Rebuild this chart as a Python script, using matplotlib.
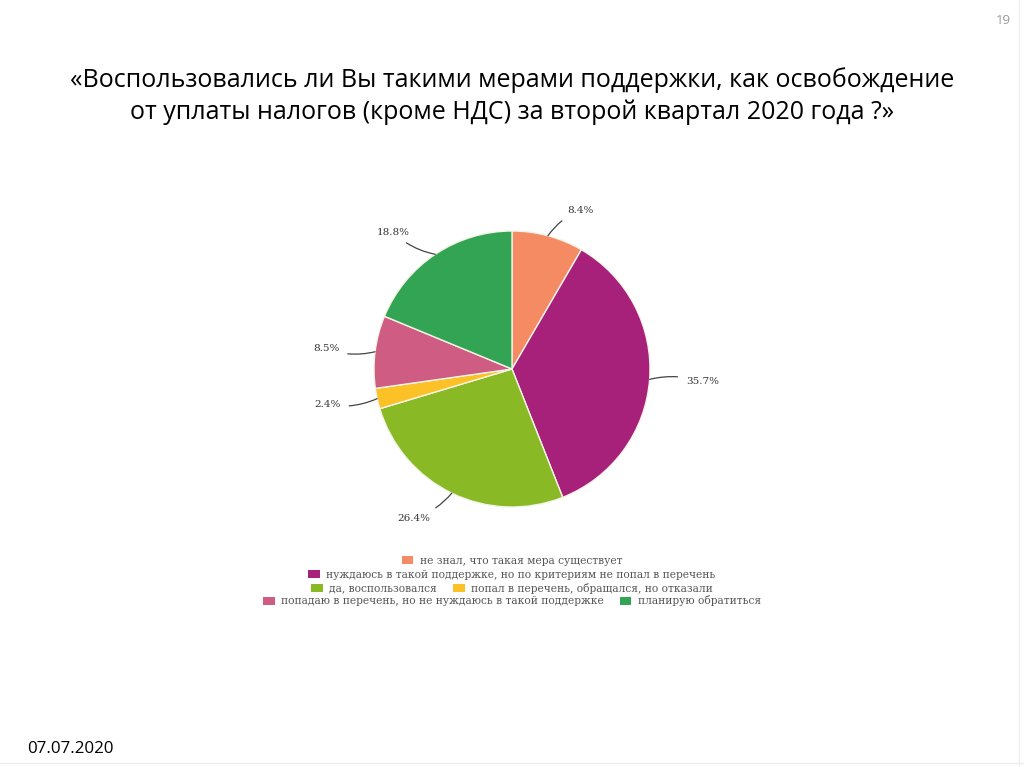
import matplotlib.pyplot as plt
from matplotlib.patches import Patch
import numpy as np

# данные
labels = ['не знал, что такая мера существует',
          'нуждаюсь в такой поддержке, но по критериям не попал в перечень',
          'да, воспользовался',
          'попал в перечень, обращался, но отказали',
          'попадаю в перечень, но не нуждаюсь в такой поддержке',
          'планирую обратиться']
values = [8.4, 35.7, 26.4, 2.4, 8.5, 18.8]
colors = ['#F58B63', '#A7207A', '#8AB926', '#FBC127', '#CF5C83', '#33A453']
# позиции подписей (в радиусах)
label_pos = [(0.40, 1.15), (1.26, -0.094), (-0.59, -1.08),
             (-1.24, -0.26), (-1.25, 0.145), (-0.74, 0.99)]
legend_rows = [[0], [1], [2, 3], [4, 5]]

title = ('«Воспользовались ли Вы такими мерами поддержки, как освобождение\n'
         'от уплаты налогов (кроме НДС) за второй квартал 2020 года ?»')

W, H = 1024, 767
fig = plt.figure(figsize=(W / 100, H / 100), dpi=100)
fig.patch.set_facecolor('white')

fig.text(512 / W, 1 - 96 / H, title, ha='center', va='center',
         fontsize=18, family='Open Sans', color='black', linespacing=1.3)
fig.text(1003 / W, 1 - 20 / H, '19', ha='center', va='center',
         fontsize=9.5, family='Open Sans', color='#999999')
fig.text(27 / W, 1 - 749 / H, '07.07.2020', ha='left', va='center',
         fontsize=12.2, family='Open Sans', color='black')

# круговая диаграмма
cx, cy, r = 512, 369, 138
half = 200
ax = fig.add_axes([(cx - half) / W, 1 - (cy + half) / H, 2 * half / W, 2 * half / H])
wedges, _ = ax.pie(values, colors=colors, startangle=90, counterclock=False,
                   radius=1, wedgeprops=dict(edgecolor='#f4f4e8', linewidth=1))
lim = half / r
ax.set_xlim(-lim, lim)
ax.set_ylim(-lim, lim)
ax.set_aspect('equal')
ax.axis('off')

for w, v, (lx, ly) in zip(wedges, values, label_pos):
    ang = np.deg2rad((w.theta1 + w.theta2) / 2)
    px, py = np.cos(ang), np.sin(ang)
    ha = 'left' if lx > 0 else 'right'
    ax.annotate(f'{v}%', xy=(px, py), xytext=(lx, ly), ha=ha, va='center',
                fontsize=7.5, family='DejaVu Serif', color='#333333',
                arrowprops=dict(arrowstyle='-', color='#444444', lw=0.9,
                                shrinkA=4, shrinkB=0,
                                connectionstyle='arc3,rad=0.15'))

# легенда по строкам
row_y = [561, 575, 588, 601]
for row, y in zip(legend_rows, row_y):
    handles = [Patch(facecolor=colors[i], edgecolor='none') for i in row]
    fig.legend(handles, [labels[i] for i in row], loc='center',
               bbox_to_anchor=(512 / W, 1 - y / H), ncol=len(row), frameon=False,
               prop=dict(family='DejaVu Serif', size=7.65), labelcolor='#555555',
               handlelength=1.1, handleheight=0.8, handletextpad=0.6,
               columnspacing=1.5, borderpad=0, borderaxespad=0)

# рамка слайда
fig.add_artist(plt.Line2D([1019 / W, 1019 / W], [0, 1], color='#eeeeee', lw=1))
fig.add_artist(plt.Line2D([0, 1], [4 / H, 4 / H], color='#eeeeee', lw=1))

fig.savefig('out.png', dpi=100)
